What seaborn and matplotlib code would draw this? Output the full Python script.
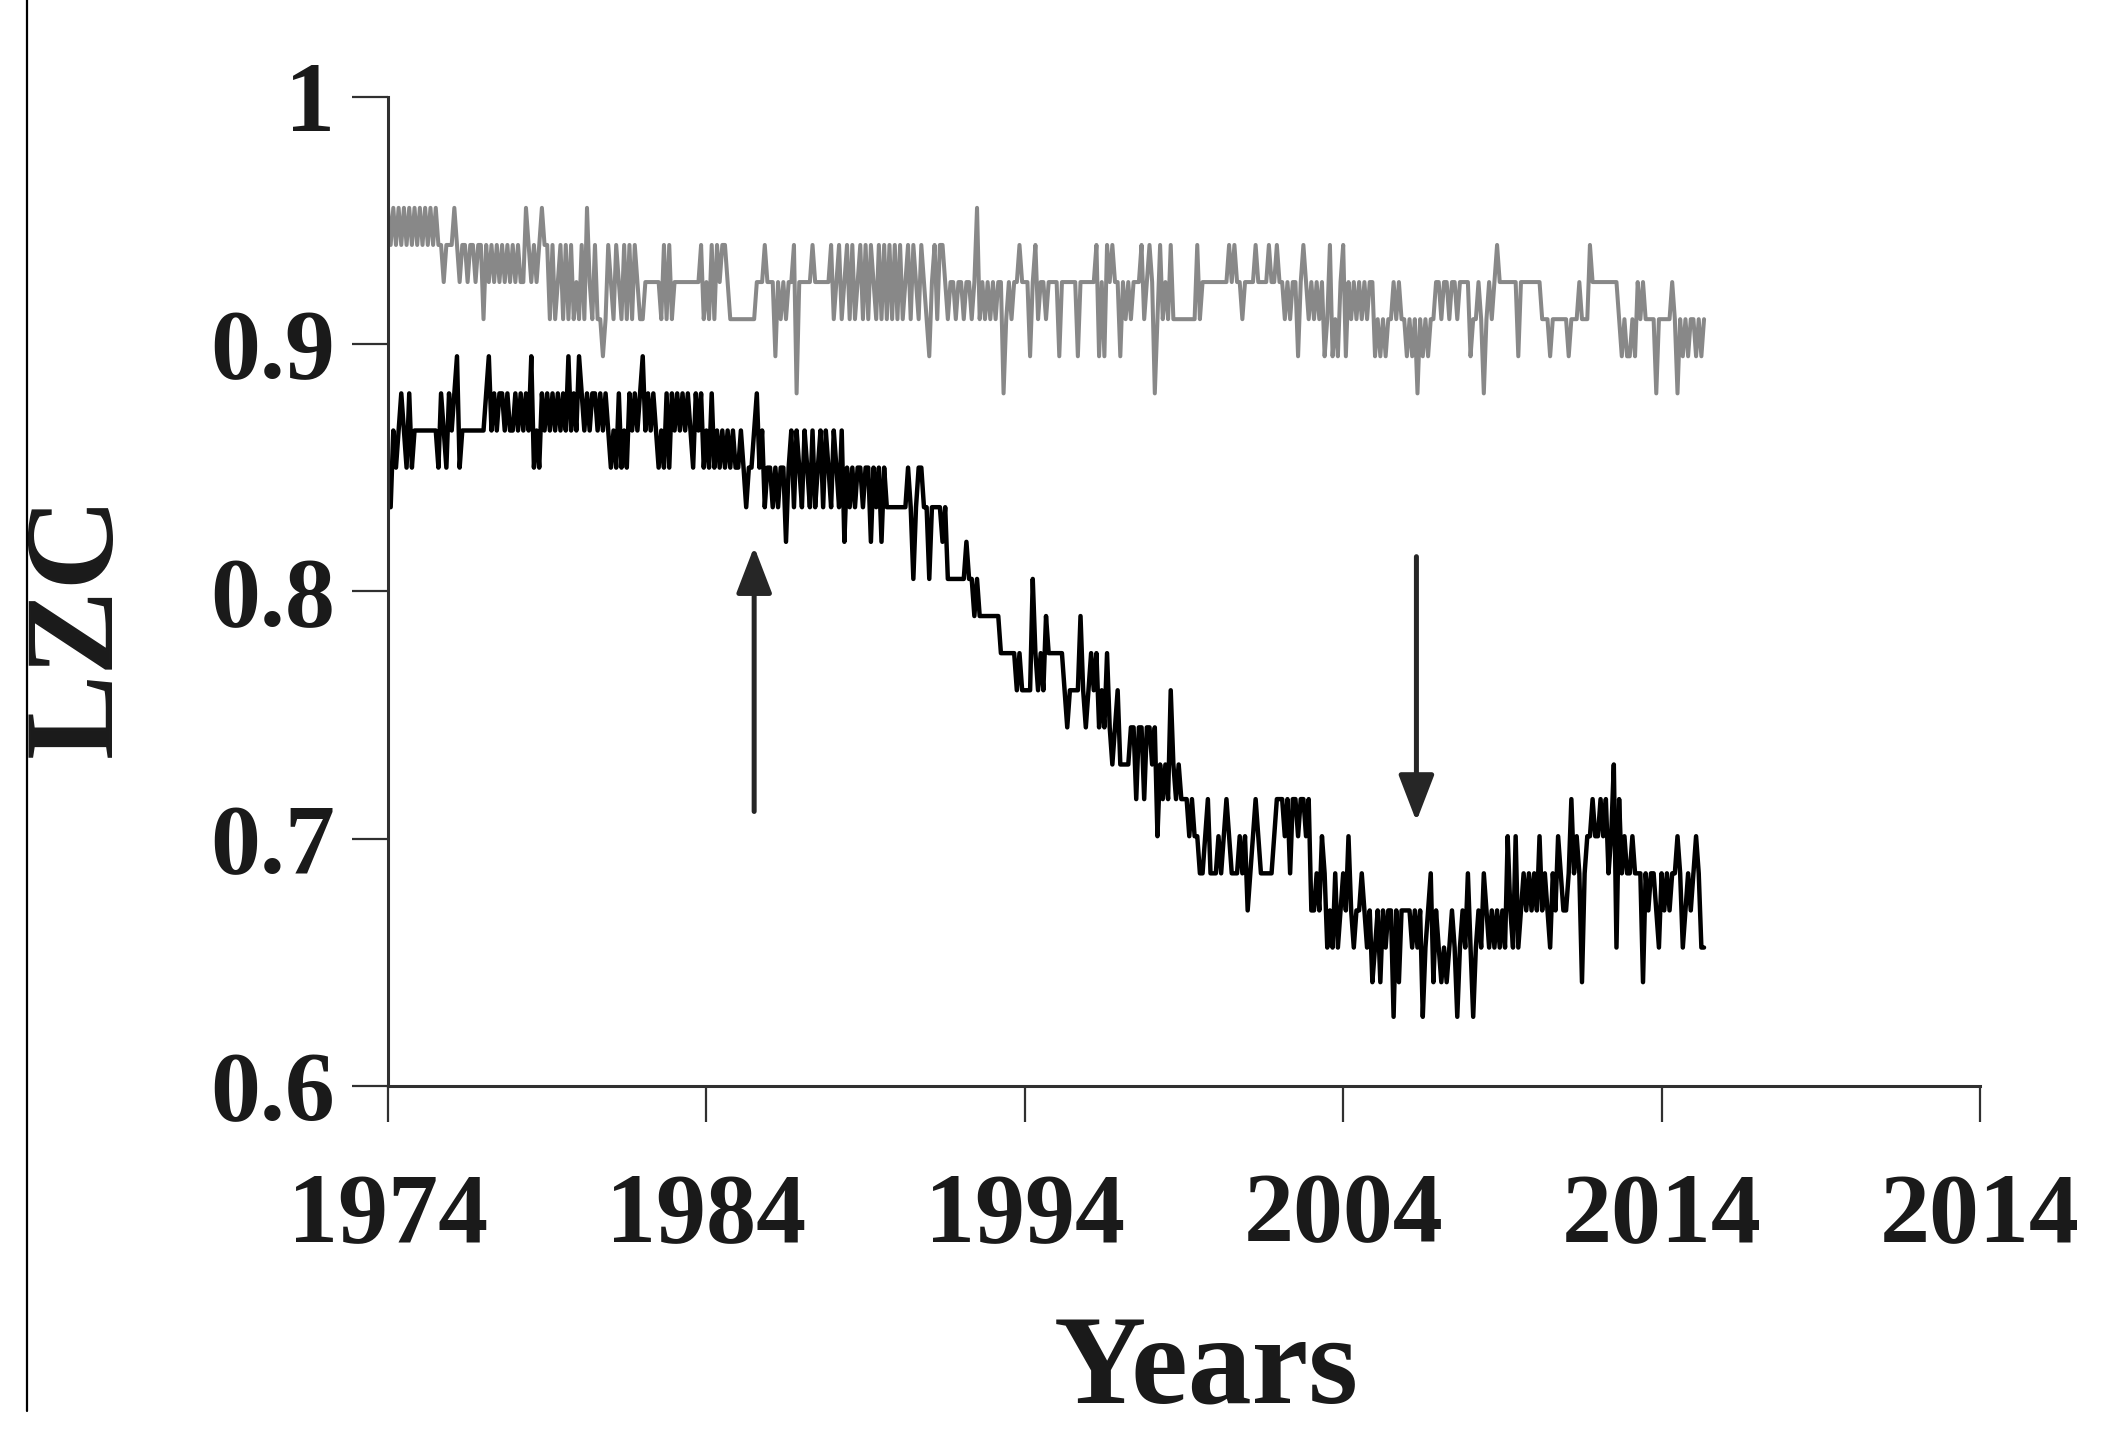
import numpy as np
import pandas as pd
import matplotlib
matplotlib.use("Agg")
import matplotlib.pyplot as plt
import seaborn as sns
from matplotlib.lines import Line2D

# ---------------- data (monthly LZC values) ----------------
start_year = 1974

gray_lzc = [
    # 1974
    .955, .940, .955, .940, .955, .940, .955, .940, .955, .940, .955, .940,
    # 1975
    .955, .940, .955, .940, .955, .940, .955, .940, .940, .925, .940, .940,
    # 1976
    .940, .955, .940, .925, .940, .940, .925, .940, .940, .925, .940, .940,
    # 1977
    .910, .940, .925, .940, .925, .940, .925, .940, .925, .940, .925, .940,
    # 1978
    .925, .940, .925, .925, .955, .940, .925, .940, .925, .940, .955, .940,
    # 1979
    .940, .910, .940, .910, .925, .940, .910, .940, .910, .940, .910, .925,
    # 1980
    .910, .940, .910, .955, .925, .910, .940, .910, .910, .895, .910, .940,
    # 1981
    .925, .910, .940, .925, .910, .940, .910, .940, .910, .940, .925, .910,
    # 1982
    .910, .925, .925, .925, .925, .925, .925, .910, .940, .910, .940, .910,
    # 1983
    .925, .925, .925, .925, .925, .925, .925, .925, .925, .925, .940, .910,
    # 1984
    .925, .910, .940, .910, .940, .925, .940, .940, .925, .910, .910, .910,
    # 1985
    .910, .910, .910, .910, .910, .910, .910, .925, .925, .925, .940, .925,
    # 1986
    .925, .925, .895, .925, .910, .925, .910, .925, .925, .940, .880, .925,
    # 1987
    .925, .925, .925, .925, .940, .925, .925, .925, .925, .925, .925, .940,
    # 1988
    .910, .925, .940, .910, .925, .940, .910, .940, .910, .925, .940, .910,
    # 1989
    .940, .910, .940, .925, .910, .940, .910, .940, .910, .940, .910, .940,
    # 1990
    .910, .940, .910, .925, .940, .910, .940, .925, .910, .940, .925, .910,
    # 1991
    .895, .925, .940, .910, .940, .940, .925, .910, .925, .925, .910, .925,
    # 1992
    .925, .910, .925, .925, .910, .925, .955, .910, .925, .910, .925, .910,
    # 1993
    .925, .910, .925, .925, .880, .910, .925, .910, .925, .925, .940, .925,
    # 1994
    .925, .925, .895, .925, .940, .910, .925, .925, .910, .925, .925, .925,
    # 1995
    .925, .895, .925, .925, .925, .925, .925, .925, .895, .925, .925, .925,
    # 1996
    .925, .925, .925, .940, .895, .925, .895, .940, .925, .940, .925, .925,
    # 1997
    .895, .925, .910, .925, .910, .925, .925, .925, .940, .910, .925, .940,
    # 1998
    .925, .880, .910, .940, .910, .925, .910, .940, .910, .910, .910, .910,
    # 1999
    .910, .910, .910, .910, .910, .940, .910, .925, .925, .925, .925, .925,
    # 2000
    .925, .925, .925, .925, .925, .940, .925, .940, .925, .925, .910, .925,
    # 2001
    .925, .925, .925, .940, .925, .925, .925, .925, .940, .925, .925, .940,
    # 2002
    .925, .925, .910, .925, .910, .925, .925, .895, .925, .940, .925, .910,
    # 2003
    .925, .910, .925, .910, .925, .895, .910, .940, .895, .910, .895, .925,
    # 2004
    .940, .895, .925, .910, .925, .910, .925, .910, .925, .910, .925, .925,
    # 2005
    .895, .910, .895, .910, .895, .910, .910, .925, .910, .925, .910, .910,
    # 2006
    .895, .910, .895, .910, .880, .910, .895, .910, .895, .910, .910, .925,
    # 2007
    .925, .910, .925, .925, .910, .925, .925, .910, .925, .925, .925, .925,
    # 2008
    .895, .910, .910, .925, .910, .880, .910, .925, .910, .925, .940, .925,
    # 2009
    .925, .925, .925, .925, .925, .925, .895, .925, .925, .925, .925, .925,
    # 2010
    .925, .925, .925, .910, .910, .910, .895, .910, .910, .910, .910, .910,
    # 2011
    .910, .895, .910, .910, .910, .925, .910, .910, .910, .940, .925, .925,
    # 2012
    .925, .925, .925, .925, .925, .925, .925, .925, .910, .895, .910, .895,
    # 2013
    .895, .910, .895, .925, .910, .925, .910, .910, .910, .910, .880, .910,
    # 2014
    .910, .910, .910, .910, .925, .910, .880, .910, .895, .910, .895, .910,
    # 2015
    .910, .895, .910, .895, .910,
]

black_lzc = [
    # 1974
    .834, .834, .865, .850, .865, .880, .865, .850, .880, .850, .865, .865,
    # 1975
    .865, .865, .865, .865, .865, .865, .865, .850, .880, .865, .850, .880,
    # 1976
    .865, .880, .895, .850, .865, .865, .865, .865, .865, .865, .865, .865,
    # 1977
    .865, .880, .895, .865, .880, .865, .880, .880, .865, .880, .865, .865,
    # 1978
    .880, .865, .880, .865, .880, .865, .895, .850, .865, .850, .880, .865,
    # 1979
    .880, .865, .880, .865, .880, .865, .880, .865, .895, .865, .880, .865,
    # 1980
    .895, .880, .865, .880, .865, .880, .880, .865, .880, .865, .880, .865,
    # 1981
    .850, .865, .850, .880, .850, .865, .850, .880, .865, .880, .865, .880,
    # 1982
    .895, .865, .880, .865, .880, .865, .850, .865, .850, .880, .850, .880,
    # 1983
    .865, .880, .865, .880, .865, .880, .865, .850, .880, .865, .880, .850,
    # 1984
    .865, .850, .880, .850, .865, .850, .865, .850, .865, .850, .865, .850,
    # 1985
    .850, .865, .850, .834, .850, .850, .865, .880, .850, .865, .834, .850,
    # 1986
    .850, .834, .850, .834, .850, .850, .820, .850, .865, .834, .865, .850,
    # 1987
    .834, .865, .850, .834, .865, .834, .850, .865, .834, .865, .850, .834,
    # 1988
    .865, .850, .834, .865, .820, .850, .834, .850, .834, .850, .850, .834,
    # 1989
    .850, .850, .820, .850, .834, .850, .820, .850, .834, .834, .834, .834,
    # 1990
    .834, .834, .834, .834, .850, .834, .805, .834, .850, .850, .834, .834,
    # 1991
    .805, .834, .834, .834, .834, .820, .834, .805, .805, .805, .805, .805,
    # 1992
    .805, .805, .820, .805, .805, .790, .805, .790, .790, .790, .790, .790,
    # 1993
    .790, .790, .790, .775, .775, .775, .775, .775, .775, .760, .775, .760,
    # 1994
    .760, .760, .760, .805, .775, .760, .775, .760, .790, .775, .775, .775,
    # 1995
    .775, .775, .775, .760, .745, .760, .760, .760, .760, .790, .760, .745,
    # 1996
    .760, .775, .760, .775, .745, .760, .745, .775, .745, .730, .745, .760,
    # 1997
    .730, .730, .730, .730, .745, .745, .716, .745, .745, .716, .745, .745,
    # 1998
    .730, .745, .701, .730, .716, .730, .716, .760, .730, .716, .730, .716,
    # 1999
    .716, .716, .701, .716, .701, .701, .686, .686, .701, .716, .686, .686,
    # 2000
    .686, .701, .686, .701, .716, .701, .686, .686, .686, .701, .686, .701,
    # 2001
    .671, .686, .701, .716, .701, .686, .686, .686, .686, .686, .701, .716,
    # 2002
    .716, .716, .701, .716, .686, .716, .716, .701, .716, .716, .701, .716,
    # 2003
    .671, .671, .686, .671, .701, .686, .656, .671, .656, .686, .656, .671,
    # 2004
    .686, .671, .701, .671, .656, .671, .671, .686, .671, .656, .671, .642,
    # 2005
    .656, .671, .642, .671, .656, .671, .671, .628, .671, .642, .671, .671,
    # 2006
    .671, .671, .656, .671, .656, .671, .628, .656, .671, .686, .642, .671,
    # 2007
    .656, .642, .656, .642, .656, .671, .656, .628, .656, .671, .656, .686,
    # 2008
    .656, .628, .656, .671, .656, .686, .671, .656, .671, .656, .671, .656,
    # 2009
    .671, .656, .701, .671, .656, .701, .656, .671, .686, .671, .686, .671,
    # 2010
    .686, .671, .701, .671, .686, .671, .656, .686, .671, .701, .686, .671,
    # 2011
    .671, .686, .716, .686, .701, .686, .642, .686, .701, .701, .716, .701,
    # 2012
    .701, .716, .701, .716, .686, .701, .730, .656, .716, .686, .701, .686,
    # 2013
    .686, .701, .686, .686, .686, .642, .686, .671, .686, .686, .671, .656,
    # 2014
    .686, .671, .686, .671, .686, .686, .701, .686, .656, .671, .686, .671,
    # 2015
    .686, .701, .686, .656, .656,
]

x_ticks = [1974, 1984, 1994, 2004, 2014, 2024]
x_tick_labels = ["1974", "1984", "1994", "2004", "2014", "2014"]
y_ticks = [0.6, 0.7, 0.8, 0.9, 1.0]
y_tick_labels = ["0.6", "0.7", "0.8", "0.9", "1"]

# arrows: (year, tail value, head value)
up_arrow = (1985.5, 0.711, 0.818)
down_arrow = (2006.3, 0.814, 0.707)

# ---------------- figure ----------------
sns.set_theme(style="ticks")
plt.rcParams["font.family"] = ["Liberation Serif", "DejaVu Serif"]
plt.rcParams["font.weight"] = "bold"

fig = plt.figure(figsize=(21.03, 14.30), dpi=100, facecolor="white")
ax = fig.add_axes([0.1845, 0.2405, 0.757, 0.692])
ax.set_facecolor("white")

months_g = np.arange(len(gray_lzc)) / 12.0 + start_year
months_b = np.arange(len(black_lzc)) / 12.0 + start_year
df_g = pd.DataFrame({"year": months_g, "lzc": gray_lzc})
df_b = pd.DataFrame({"year": months_b, "lzc": black_lzc})

sns.lineplot(data=df_g, x="year", y="lzc", ax=ax, color="#888888",
             linewidth=2.9, estimator=None, sort=False, legend=False)
sns.lineplot(data=df_b, x="year", y="lzc", ax=ax, color="#000000",
             linewidth=3.2, estimator=None, sort=False, legend=False)

for (xa, y0, y1) in (up_arrow, down_arrow):
    ax.annotate("", xy=(xa, y1), xytext=(xa, y0),
                arrowprops=dict(arrowstyle="-|>,head_length=1.3,head_width=0.5",
                                color="#262626", lw=3.6, mutation_scale=22,
                                shrinkA=0, shrinkB=0))

ax.set_xlim(1974, 2024)
ax.set_ylim(0.6, 1.0)
ax.set_xticks(x_ticks)
ax.set_xticklabels(x_tick_labels)
ax.set_yticks(y_ticks)
ax.set_yticklabels(y_tick_labels)

for s in ("top", "right"):
    ax.spines[s].set_visible(False)
for s in ("left", "bottom"):
    ax.spines[s].set_linewidth(2.2)
    ax.spines[s].set_color("#303030")

ax.tick_params(axis="x", direction="out", length=26, width=1.6, color="#303030",
               pad=36, labelsize=72, labelcolor="#1a1a1a")
ax.tick_params(axis="y", direction="out", length=26, width=1.6, color="#303030",
               pad=12, labelsize=72, labelcolor="#1a1a1a")
for lab in ax.get_xticklabels() + ax.get_yticklabels():
    lab.set_fontweight("bold")

ax.set_xlabel("Years", fontsize=92, fontweight="bold", color="#1a1a1a", va="center")
ax.xaxis.set_label_coords(0.514, -0.29)
ax.set_ylabel("LZC", fontsize=92, fontweight="bold", color="#1a1a1a", va="center")
ax.yaxis.set_label_coords(-0.1935, 0.465)

# thin frame line at the far left of the page
fig.add_artist(Line2D([27 / 2103, 27 / 2103], [1.0, 1 - 1411 / 1430],
                      transform=fig.transFigure, color="black", linewidth=1.6))

fig.savefig("out.png", dpi=100, facecolor="white")
